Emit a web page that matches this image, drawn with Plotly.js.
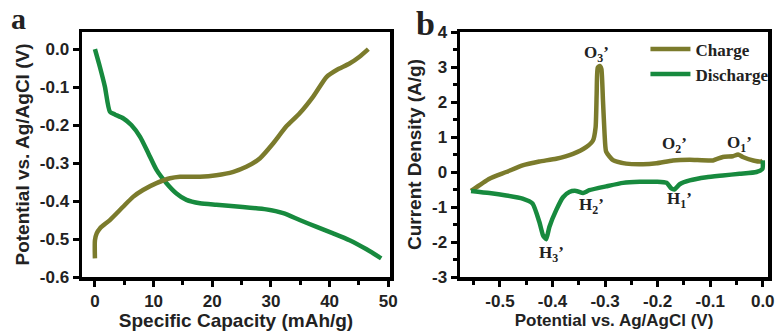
<!DOCTYPE html>
<html><head><meta charset="utf-8">
<script src="https://cdn.plot.ly/plotly-3.0.1.min.js"></script>
<style>html,body{margin:0;padding:0;background:#fff}#c{width:776px;height:331px}</style>
</head><body><div id="c"></div>
<script>
// Panel a: galvanostatic charge/discharge
const capDischarge = [0,0.85,1.7,2.55,3.4,4.8,6.2,7.7,9.1,10.5,12.2,13.9,15.6,17.9,20.7,24.7,29.2,32.1,34.9,37.8,40.6,43.4,46.3,48.8];
const potDischarge = [0,-0.047,-0.099,-0.165,-0.172,-0.182,-0.2,-0.231,-0.274,-0.318,-0.353,-0.38,-0.397,-0.406,-0.41,-0.415,-0.422,-0.432,-0.45,-0.468,-0.485,-0.503,-0.527,-0.551];
const capCharge = [0,0,0.3,0.85,2.55,4.8,6.5,8.2,10.5,12.8,14.5,17.9,20.7,23.6,25.8,28.1,30.4,32.6,34.9,37.2,39.5,41.2,43.4,45.1,46.6];
const potCharge = [-0.551,-0.503,-0.485,-0.472,-0.45,-0.415,-0.389,-0.371,-0.353,-0.34,-0.336,-0.336,-0.332,-0.323,-0.31,-0.288,-0.248,-0.204,-0.169,-0.125,-0.073,-0.055,-0.038,-0.02,0.0];

// Panel b: cyclic voltammetry
const cvChargeV = [-0.555,-0.52,-0.488,-0.457,-0.425,-0.393,-0.361,-0.336,-0.323,-0.318,-0.316,-0.314,-0.31,-0.307,-0.304,-0.301,-0.298,-0.285,-0.26,-0.228,-0.202,-0.171,-0.139,-0.095,-0.076,-0.057,-0.047,-0.038,-0.018,-0.0025,0.0];
const cvChargeI = [-0.54,-0.19,0.0,0.19,0.3,0.38,0.52,0.71,0.9,1.28,2.23,2.98,3.03,2.94,2.04,1.1,0.58,0.34,0.24,0.22,0.25,0.33,0.35,0.33,0.43,0.45,0.5,0.43,0.33,0.3,0.33];
const cvDischargeV = [0.0,-0.0006,-0.012,-0.044,-0.076,-0.107,-0.139,-0.158,-0.168,-0.174,-0.183,-0.202,-0.234,-0.266,-0.298,-0.33,-0.342,-0.355,-0.368,-0.38,-0.393,-0.406,-0.412,-0.418,-0.425,-0.438,-0.457,-0.488,-0.52,-0.555];
const cvDischargeI = [0.33,0.09,0.0,-0.05,-0.1,-0.15,-0.24,-0.35,-0.5,-0.47,-0.31,-0.28,-0.28,-0.31,-0.41,-0.52,-0.6,-0.54,-0.57,-0.72,-1.09,-1.57,-1.92,-1.81,-1.43,-0.9,-0.76,-0.67,-0.6,-0.54];

const peakLabels = ["O<sub>3</sub>’","O<sub>2</sub>’","O<sub>1</sub>’","H<sub>1</sub>’","H<sub>2</sub>’","H<sub>3</sub>’"];
const peakV = [-0.317,-0.168,-0.044,-0.159,-0.326,-0.402];
const peakI = [3.37,0.76,0.81,-0.81,-0.98,-2.33];

const xTicksA = [0,10,20,30,40,50];
const xTickTextA = ["0","10","20","30","40","50"];
const yTicksA = [0,-0.1,-0.2,-0.3,-0.4,-0.5,-0.6];
const yTickTextA = ["0.0","-0.1","-0.2","-0.3","-0.4","-0.5","-0.6"];
const xTicksB = [-0.5,-0.4,-0.3,-0.2,-0.1,0.0];
const xTickTextB = ["-0.5","-0.4","-0.3","-0.2","-0.1","0.0"];
const yTicksB = [4,3,2,1,0,-1,-2,-3];
const yTickTextB = ["4","3","2","1","0","-1","-2","-3"];

const OLIVE = "#7b7b2c";
const GREEN = "#178a3e";
const B = s => "<b>" + s + "</b>";

const traces = [
  {x: capDischarge, y: potDischarge, type:"scatter", mode:"lines", line:{color:GREEN,width:4.5,shape:"spline",smoothing:0.6}, xaxis:"x", yaxis:"y", showlegend:false},
  {x: capCharge, y: potCharge, type:"scatter", mode:"lines", line:{color:OLIVE,width:4.5,shape:"spline",smoothing:0.6}, xaxis:"x", yaxis:"y", showlegend:false},
  {x: cvChargeV, y: cvChargeI, type:"scatter", mode:"lines", name:B("Charge"), line:{color:OLIVE,width:4.5,shape:"spline",smoothing:0.5}, xaxis:"x2", yaxis:"y2"},
  {x: cvDischargeV, y: cvDischargeI, type:"scatter", mode:"lines", name:B("Discharge"), line:{color:GREEN,width:4.5,shape:"spline",smoothing:0.5}, xaxis:"x2", yaxis:"y2"}
];

const tickFont = {family:"Liberation Sans", size:17, color:"#222"};
const titleFont = {family:"Liberation Sans", size:19, color:"#222"};
const serif = {family:"Liberation Serif", size:17, color:"#222"};
const common = {showline:true, linecolor:"#000", linewidth:3.5, mirror:true, ticks:"outside", ticklen:6, tickwidth:3, tickcolor:"#000", showgrid:false, zeroline:false, tickfont:tickFont};
const minorTick = d => ({dtick:d, tick0:0, ticks:"outside", ticklen:4, tickwidth:3, tickcolor:"#000", showgrid:false});

const annotations = peakLabels.map((t,i)=>({x:peakV[i], y:peakI[i], xref:"x2", yref:"y2", text:B(t), showarrow:false, font:serif}));
annotations.push({x:0.012, y:1.0, xref:"paper", yref:"paper", xanchor:"left", yanchor:"top", text:B("a"), showarrow:false, font:{family:"Liberation Serif", size:30, color:"#222"}});
annotations.push({x:0.533, y:0.99, xref:"paper", yref:"paper", xanchor:"left", yanchor:"top", text:B("b"), showarrow:false, font:{family:"Liberation Serif", size:34, color:"#222"}});

const layout = {
  width:776, height:331, margin:{l:0,r:0,t:0,b:0}, paper_bgcolor:"#fff", plot_bgcolor:"#fff",
  xaxis: Object.assign({}, common, {domain:[0.1057,0.5026], range:[-2.2,50.3], tickvals:xTicksA, ticktext:xTickTextA.map(B), minor:minorTick(5), title:{text:B("Specific Capacity (mAh/g)"), font:titleFont, standoff:0}, anchor:"y"}),
  yaxis: Object.assign({}, common, {domain:[0.1631,0.9033], range:[-0.6,0.045], tickvals:yTicksA, ticktext:yTickTextA.map(B), title:{text:B("Potential vs. Ag/AgCl (V)"), font:titleFont, standoff:6}, anchor:"x"}),
  xaxis2: Object.assign({}, common, {domain:[0.5928,0.9897], range:[-0.576,0.01], tickvals:xTicksB, ticktext:xTickTextB.map(B), minor:minorTick(0.05), title:{text:B("Potential vs. Ag/AgCl (V)"), font:Object.assign({},titleFont,{size:17}), standoff:4}, anchor:"y2"}),
  yaxis2: Object.assign({}, common, {domain:[0.1631,0.9033], range:[-3,4], tickvals:yTicksB, ticktext:yTickTextB.map(B), minor:minorTick(0.5), title:{text:B("Current Density (A/g)"), font:titleFont, standoff:6}, anchor:"x2"}),
  showlegend:true,
  legend:{x:0.998, y:0.905, xanchor:"right", yanchor:"top", bgcolor:"rgba(0,0,0,0)", borderwidth:0, font:serif, tracegroupgap:0, itemwidth:40},
  annotations: annotations
};

Plotly.newPlot("c", traces, layout, {staticPlot:true, displayModeBar:false});
</script></body></html>
